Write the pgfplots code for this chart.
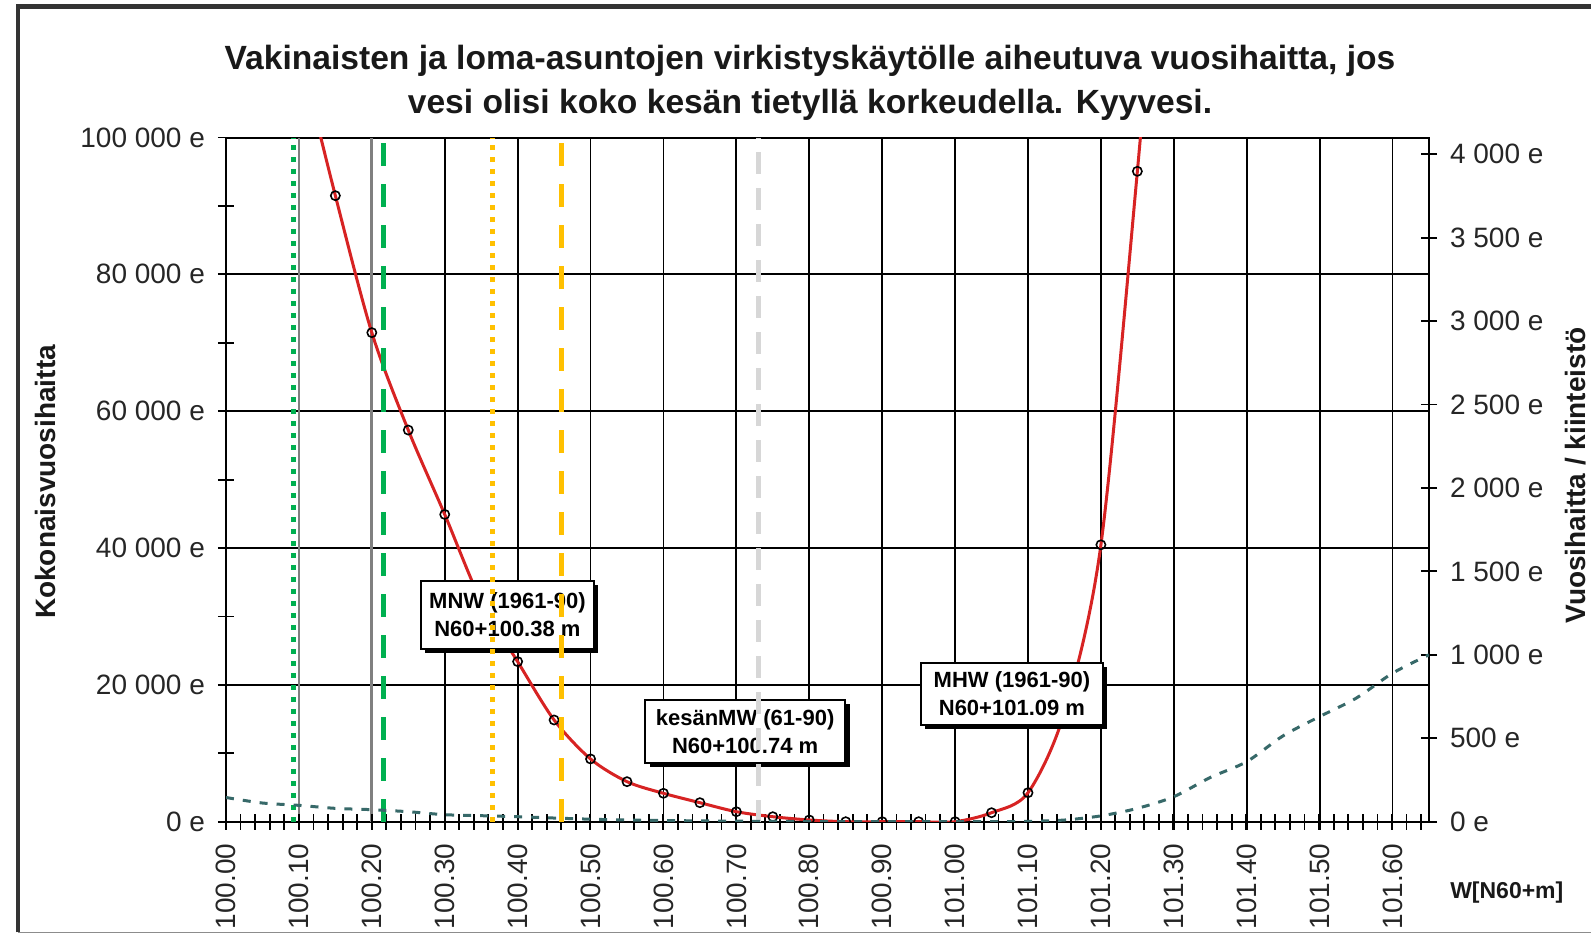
\documentclass[border=0pt]{standalone}
\usepackage{fontspec}
\setmainfont{Liberation Sans}
\usepackage{pgfplots}
\pgfplotsset{compat=1.18}
\usetikzlibrary{shadows}

\definecolor{redline}{RGB}{215,35,35}
\definecolor{tealline}{RGB}{55,105,105}
\definecolor{xlgreen}{RGB}{0,176,80}
\definecolor{xlgold}{RGB}{255,192,0}
\definecolor{xlgray}{RGB}{215,215,215}

\pgfplotstableread{
x y
100.10 113000
100.15 91500
100.20 71480
100.25 57240
100.30 44910
100.35 32200
100.40 23400
100.45 14870
100.50 9170
100.55 5850
100.60 4150
100.65 2780
100.70 1460
100.75 730
100.80 250
100.85 0
100.90 0
100.95 0
101.00 0
101.05 1316
101.10 4240
101.15 16000
101.20 40470
101.25 95060
101.30 157000
}\totaldata

\pgfplotstableread{
x y
100.00 145
100.05 112
100.10 98
100.15 80
100.20 72
100.25 60
100.30 42
100.35 36
100.40 30
100.45 22
100.50 15
100.55 10
100.60 7
100.65 5
100.70 3
100.75 2
100.80 1
100.85 0
100.90 0
100.95 0
101.00 0
101.05 0
101.10 2
101.15 10
101.20 35
101.25 80
101.30 150
101.35 265
101.40 360
101.45 515
101.50 630
101.55 740
101.60 890
101.65 1000
}\perdata

\tikzset{annbox/.style={draw=black, line width=0.8pt, fill=white, align=center,
  font=\bfseries\fontsize{11}{14}\selectfont, inner sep=2pt,
  drop shadow={shadow xshift=2.2pt, shadow yshift=-2.2pt, fill=black, opacity=1}}}

\begin{document}
\begin{tikzpicture}
\useasboundingbox (0pt,0pt) rectangle (795.5pt,467pt);
\draw[line width=0.8pt,black!45] (9pt,0.8pt) -- (800pt,0.8pt);
\draw[line width=2.2pt,black!80] (9pt,0.8pt) -- (9pt,463.8pt) -- (800pt,463.8pt);

\node[align=center, font=\bfseries\fontsize{16.8}{22}\selectfont, text=black!90] at (405pt,425.8pt)
 {Vakinaisten ja loma-asuntojen virkistyskäytölle aiheutuva vuosihaitta, jos\\vesi olisi koko kesän tietyllä korkeudella. Kyyvesi.};

\begin{axis}[
 at={(113pt,56.15pt)}, anchor=south west, scale only axis,
 width=601.5pt, height=342.1pt,
 xmin=100, xmax=101.65, ymin=0, ymax=100000,
 scaled y ticks=false,
 axis line style={line width=1pt,black},
 xtick pos=bottom, ytick pos=left,
 tick align=center,
 major tick length=8pt, minor tick length=8pt,
 tick style={black, line width=0.9pt},
 xtick={100,100.3,100.4,100.5,100.6,100.7,100.8,100.9,101,101.1,101.2,101.3,101.4,101.5,101.6},
 xticklabels={100.00,100.30,100.40,100.50,100.60,100.70,100.80,100.90,101.00,101.10,101.20,101.30,101.40,101.50,101.60},
 extra x ticks={100.1,100.2}, extra x tick labels={100.10,100.20},
 extra x tick style={major grid style={black!50,line width=1.4pt}},
 minor xtick={100.02,100.04,...,101.64},
 ytick={0,20000,40000,60000,80000,100000},
 yticklabels={0 e,20 000 e,40 000 e,60 000 e,80 000 e,100 000 e},
 minor ytick={10000,30000,50000,70000,90000},
 xmajorgrids, ymajorgrids,
 major grid style={black, line width=0.9pt},
 xticklabel shift=3.5pt,
 x tick label style={rotate=90, anchor=east, font=\fontsize{14}{14}\selectfont, text=black!85},
 y tick label style={font=\fontsize{14}{14}\selectfont, text=black!85, xshift=-3pt},
 clip=true, clip marker paths=true,
]
\addplot[redline, line width=1.5pt, smooth, mark=o, mark size=2.3pt,
  mark options={solid, fill=white, draw=black, line width=0.8pt}] table[x=x,y=y] {\totaldata};

\node[annbox, minimum width=86.5pt, minimum height=34pt] at (axis cs:100.386,30220) {MNW (1961-90)\\N60+100.38 m};
\node[annbox, minimum width=100pt, minimum height=31.5pt] at (axis cs:100.712,13190) {kesänMW (61-90)\\N60+100.74 m};
\node[annbox, minimum width=91pt, minimum height=31pt] at (axis cs:101.078,18670) {MHW (1961-90)\\N60+101.09 m};

\addplot[xlgreen, line width=2.5pt, dash pattern=on 2.5pt off 3.5pt] coordinates {(100.092,0) (100.092,100000)};
\addplot[xlgreen, line width=2.5pt, dash pattern=on 11.5pt off 9pt] coordinates {(100.216,0) (100.216,100000)};
\addplot[xlgold, line width=2.5pt, dash pattern=on 2.5pt off 3.5pt] coordinates {(100.365,0) (100.365,100000)};
\addplot[xlgold, line width=2.5pt, dash pattern=on 11.5pt off 9pt] coordinates {(100.46,0) (100.46,100000)};
\addplot[xlgray, line width=2.5pt, dash pattern=on 11pt off 7pt] coordinates {(100.73,0) (100.73,100000)};
\end{axis}

\begin{axis}[
 at={(113pt,56.15pt)}, anchor=south west, scale only axis,
 width=601.5pt, height=342.1pt,
 xmin=100, xmax=101.65, ymin=0, ymax=4100,
 hide x axis, axis y line*=right,
 axis line style={line width=1pt,black},
 tick align=center, major tick length=8pt,
 tick style={black, line width=0.9pt},
 ytick={0,500,1000,1500,2000,2500,3000,3500,4000},
 yticklabels={0 e,500 e,1 000 e,1 500 e,2 000 e,2 500 e,3 000 e,3 500 e,4 000 e},
 y tick label style={font=\fontsize{14}{14}\selectfont, text=black!85, xshift=3pt},
]
\addplot[tealline, line width=1.5pt, smooth, dash pattern=on 4pt off 4.5pt] table[x=x,y=y] {\perdata};
\end{axis}

\node[rotate=90, font=\bfseries\fontsize{14}{14}\selectfont, text=black!90] at (22.8pt,226pt) {Kokonaisvuosihaitta};
\node[rotate=90, font=\bfseries\fontsize{14}{14}\selectfont, text=black!90] at (788pt,229.3pt) {Vuosihaitta / kiinteistö};
\node[font=\bfseries\fontsize{11.5}{12}\selectfont, text=black!90] at (753.4pt,20.5pt) {W[N60+m]};
\end{tikzpicture}
\end{document}
